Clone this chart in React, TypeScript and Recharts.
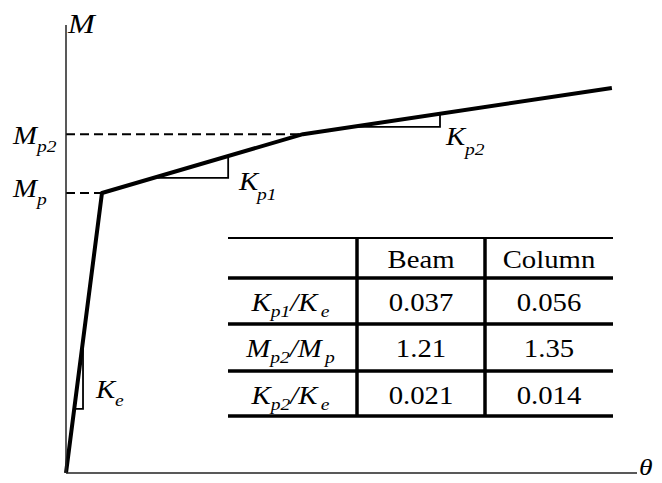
import React from 'react';
import { ComposedChart, Line, XAxis, YAxis } from 'recharts';

// trilinear moment-rotation backbone (theta, M / Mp)
const backbone = [
  { t: 0, m: 0 },
  { t: 0.63, m: 1 },
  { t: 4.15, m: 1.21 },
  { t: 9.56, m: 1.375 },
];

// dashed guides from the M axis to the two corners
const mpGuide = [
  { t: 0, m: 1 },
  { t: 0.63, m: 1 },
];
const mp2Guide = [
  { t: 0, m: 1.21 },
  { t: 4.15, m: 1.21 },
];

// little slope triangles for each branch
const keTriangle = [
  { t: 0.144, m: 0.229 },
  { t: 0.298, m: 0.229 },
  { t: 0.298, m: 0.5 },
];
const kp1Triangle = [
  { t: 1.6, m: 1.054 },
  { t: 2.84, m: 1.054 },
  { t: 2.84, m: 1.132 },
];
const kp2Triangle = [
  { t: 5.0, m: 1.236 },
  { t: 6.55, m: 1.236 },
  { t: 6.55, m: 1.283 },
];

// parameter table
const tableHeaders = ['Beam', 'Column'];
const tableRows = [
  { main: 'K', sub: 'p1', main2: 'K', sub2: 'e' },
  { main: 'M', sub: 'p2', main2: 'M', sub2: 'p' },
  { main: 'K', sub: 'p2', main2: 'K', sub2: 'e' },
];
const beamValues = ['0.037', '1.21', '0.021'];
const columnValues = ['0.056', '1.35', '0.014'];

const W = 662;
const H = 483;
const SERIF = 'Liberation Serif';
const STRETCH = 1.15;

// text that is a little wider than the font draws it
const Txt = ({ x, y, size, italic, anchor, children }: any) => (
  <text
    transform={`translate(${x},${y}) scale(${STRETCH},1)`}
    fontFamily={SERIF}
    fontSize={size}
    fontStyle={italic ? 'italic' : 'normal'}
    textAnchor={anchor || 'start'}
    fill="#000"
  >
    {children}
  </text>
);

const Sym = ({ x, y, main, sub, subX, size = 25, subSize = 17, drop = 8 }: any) => (
  <g>
    <Txt x={x} y={y} size={size} italic>
      {main}
    </Txt>
    <Txt x={subX} y={y + drop} size={subSize} italic>
      {sub}
    </Txt>
  </g>
);

const lineTops = [238, 278, 324, 371, 416];
const colX = [228, 357, 485, 613];
const headerBase = 268;
const rowBase = [311, 357, 404];

const ParamTable = () => {
  const c0 = (colX[0] + colX[1]) / 2;
  const c1 = (colX[1] + colX[2]) / 2;
  const c2 = (colX[2] + colX[3]) / 2;
  return (
    <g>
      {lineTops.map((y, i) => (
        <line
          key={i}
          x1={colX[0]}
          x2={colX[3]}
          y1={y}
          y2={y}
          stroke="#000"
          strokeWidth={i === 0 ? 2 : 3.5}
        />
      ))}
      {[colX[1], colX[2]].map((x, i) => (
        <line key={i} x1={x} x2={x} y1={lineTops[0]} y2={lineTops[4]} stroke="#000" strokeWidth={3.5} />
      ))}
      <Txt x={c1} y={headerBase} size={25} anchor="middle">
        {tableHeaders[0]}
      </Txt>
      <Txt x={c2} y={headerBase} size={25} anchor="middle">
        {tableHeaders[1]}
      </Txt>
      {tableRows.map((r, i) => (
        <g key={i}>
          <text
            transform={`translate(${c0 - 2},${rowBase[i]}) scale(${STRETCH},1)`}
            fontFamily={SERIF}
            fontSize={25}
            fontStyle="italic"
            textAnchor="middle"
            fill="#000"
          >
            <tspan>{r.main}</tspan>
            <tspan fontSize={17} dy={6}>
              {r.sub}
            </tspan>
            <tspan dy={-6}>/{r.main2}</tspan>
            <tspan fontSize={17} dx={3} dy={6}>
              {r.sub2}
            </tspan>
          </text>
          <Txt x={c1} y={rowBase[i]} size={25} anchor="middle">
            {beamValues[i]}
          </Txt>
          <Txt x={c2} y={rowBase[i]} size={25} anchor="middle">
            {columnValues[i]}
          </Txt>
        </g>
      ))}
    </g>
  );
};

export default function App() {
  return (
    <div style={{ position: 'absolute', left: 0, top: 0, width: W, height: H, background: '#fff' }}>
      <ComposedChart width={W} height={H} margin={{ top: 25, right: 25, left: 0, bottom: 0 }}>
        <XAxis
          type="number"
          dataKey="t"
          domain={[0, 10]}
          height={10}
          tick={false}
          tickLine={false}
          axisLine={{ stroke: '#222', strokeWidth: 1.5 }}
        />
        <YAxis
          type="number"
          dataKey="m"
          domain={[0, 1.6]}
          width={66}
          tick={false}
          tickLine={false}
          axisLine={{ stroke: '#222', strokeWidth: 1.5 }}
        />
        <Line data={mpGuide} dataKey="m" stroke="#000" strokeWidth={2} strokeDasharray="9 5" dot={false} activeDot={false} isAnimationActive={false} />
        <Line data={mp2Guide} dataKey="m" stroke="#000" strokeWidth={2} strokeDasharray="9 5" dot={false} activeDot={false} isAnimationActive={false} />
        <Line data={keTriangle} dataKey="m" stroke="#000" strokeWidth={1.8} dot={false} activeDot={false} isAnimationActive={false} />
        <Line data={kp1Triangle} dataKey="m" stroke="#000" strokeWidth={1.8} dot={false} activeDot={false} isAnimationActive={false} />
        <Line data={kp2Triangle} dataKey="m" stroke="#000" strokeWidth={1.8} dot={false} activeDot={false} isAnimationActive={false} />
        <Line data={backbone} dataKey="m" stroke="#000" strokeWidth={4} strokeLinejoin="round" dot={false} activeDot={false} isAnimationActive={false} />
      </ComposedChart>
      <svg width={W} height={H} style={{ position: 'absolute', left: 0, top: 0, pointerEvents: 'none' }}>
        <Txt x={68} y={33} size={28} italic>
          M
        </Txt>
        <Sym x={13} y={144} main="M" sub="p2" subX={37} />
        <Sym x={13} y={197} main="M" sub="p" subX={37} />
        <Sym x={239} y={190} main="K" sub="p1" subX={257} drop={10} />
        <Sym x={446} y={145} main="K" sub="p2" subX={465} drop={10} />
        <Sym x={96} y={398} main="K" sub="e" subX={115} drop={8} />
        <Txt x={639} y={475} size={24} italic>
          θ
        </Txt>
        <ParamTable />
      </svg>
    </div>
  );
}
